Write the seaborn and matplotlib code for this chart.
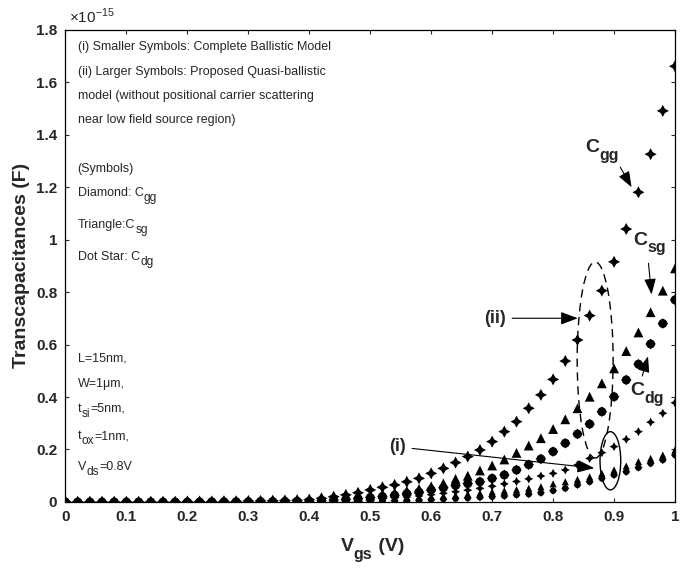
import seaborn as sns
import matplotlib.pyplot as plt
import numpy as np
import pandas as pd
from matplotlib.patches import Ellipse

sns.set_theme(style="ticks")
plt.rcParams['font.family'] = ['Liberation Sans', 'DejaVu Sans']
plt.rcParams['mathtext.fontset'] = 'custom'
plt.rcParams['mathtext.rm'] = 'Liberation Sans'

# gate voltage, 0 to 1 V in 0.02 steps
vgs = [round(0.02 * i, 2) for i in range(51)]

# larger symbols: quasi-ballistic model (x1e-15 F)
cgg_q = [0.001, 0.001, 0.001, 0.001, 0.001, 0.001, 0.001, 0.001, 0.001, 0.001,
         0.002, 0.002, 0.002, 0.003, 0.003, 0.004, 0.004, 0.005, 0.006, 0.007,
         0.009, 0.014, 0.020, 0.027, 0.035, 0.046, 0.056, 0.065, 0.077, 0.090,
         0.109, 0.128, 0.150, 0.173, 0.198, 0.230, 0.268, 0.306, 0.357, 0.408,
         0.467, 0.537, 0.617, 0.710, 0.805, 0.915, 1.040, 1.180, 1.325, 1.490,
         1.660]
csg_q = [0.000, 0.000, 0.000, 0.000, 0.000, 0.000, 0.000, 0.000, 0.000, 0.000,
         0.001, 0.001, 0.001, 0.001, 0.002, 0.002, 0.002, 0.003, 0.003, 0.004,
         0.005, 0.008, 0.011, 0.015, 0.019, 0.024, 0.030, 0.036, 0.043, 0.050,
         0.060, 0.071, 0.088, 0.100, 0.120, 0.139, 0.162, 0.187, 0.215, 0.243,
         0.278, 0.315, 0.357, 0.401, 0.452, 0.509, 0.575, 0.646, 0.723, 0.805,
         0.890]
cdg_q = [0.000, 0.000, 0.000, 0.000, 0.000, 0.000, 0.000, 0.000, 0.000, 0.000,
         0.000, 0.000, 0.001, 0.001, 0.001, 0.001, 0.002, 0.002, 0.002, 0.003,
         0.003, 0.005, 0.007, 0.010, 0.013, 0.017, 0.021, 0.026, 0.032, 0.038,
         0.046, 0.054, 0.063, 0.070, 0.077, 0.090, 0.103, 0.122, 0.142, 0.164,
         0.192, 0.224, 0.259, 0.297, 0.344, 0.401, 0.465, 0.525, 0.602, 0.680,
         0.770]

# smaller symbols: complete ballistic model (x1e-15 F)
cgg_b = [0.000, 0.000, 0.000, 0.000, 0.000, 0.000, 0.000, 0.000, 0.000, 0.000,
         0.001, 0.001, 0.001, 0.001, 0.001, 0.001, 0.002, 0.002, 0.002, 0.002,
         0.003, 0.004, 0.005, 0.006, 0.008, 0.010, 0.013, 0.016, 0.019, 0.023,
         0.028, 0.033, 0.039, 0.045, 0.052, 0.060, 0.069, 0.078, 0.088, 0.099,
         0.109, 0.122, 0.141, 0.166, 0.188, 0.211, 0.239, 0.268, 0.304, 0.338,
         0.378]
csg_b = [0.000, 0.000, 0.000, 0.000, 0.000, 0.000, 0.000, 0.000, 0.000, 0.000,
         0.000, 0.000, 0.000, 0.001, 0.001, 0.001, 0.001, 0.001, 0.001, 0.001,
         0.002, 0.002, 0.003, 0.004, 0.005, 0.007, 0.009, 0.011, 0.013, 0.016,
         0.019, 0.022, 0.026, 0.030, 0.034, 0.039, 0.043, 0.047, 0.052, 0.058,
         0.069, 0.077, 0.086, 0.096, 0.109, 0.122, 0.137, 0.154, 0.166, 0.179,
         0.198]
cdg_b = [0.000, 0.000, 0.000, 0.000, 0.000, 0.000, 0.000, 0.000, 0.000, 0.000,
         0.000, 0.000, 0.000, 0.000, 0.000, 0.000, 0.001, 0.001, 0.001, 0.001,
         0.001, 0.002, 0.002, 0.002, 0.002, 0.003, 0.004, 0.005, 0.006, 0.007,
         0.009, 0.011, 0.013, 0.015, 0.018, 0.020, 0.023, 0.027, 0.030, 0.035,
         0.043, 0.052, 0.065, 0.077, 0.090, 0.103, 0.115, 0.131, 0.147, 0.160,
         0.179]

df = pd.DataFrame({"vgs": vgs, "cgg_q": cgg_q, "csg_q": csg_q, "cdg_q": cdg_q,
                   "cgg_b": cgg_b, "csg_b": csg_b, "cdg_b": cdg_b})

fig = plt.figure(figsize=(6.85, 5.79), dpi=100)
ax = fig.add_axes([0.0956, 0.133, 0.8898, 0.816])

star4 = (4, 1, 0)
kw = dict(data=df, x="vgs", color="black", edgecolor="none", ax=ax, legend=False, zorder=3)

# ballistic (small)
sns.scatterplot(y="cgg_b", marker=star4, s=42, **kw)
sns.scatterplot(y="csg_b", marker="^", s=26, **kw)
sns.scatterplot(y="cdg_b", marker="o", s=22, **kw)
sns.scatterplot(y="cdg_b", marker=star4, s=36, **kw)
# quasi-ballistic (large)
sns.scatterplot(y="cgg_q", marker=star4, s=75, **kw)
sns.scatterplot(y="csg_q", marker="^", s=50, **kw)
sns.scatterplot(y="cdg_q", marker="o", s=42, **kw)
sns.scatterplot(y="cdg_q", marker=star4, s=62, **kw)

ax.set_xlim(0, 1)
ax.set_ylim(0, 1.8)
ax.set_xticks(np.arange(0, 1.01, 0.1))
ax.set_yticks(np.arange(0, 1.81, 0.2))
ax.set_xticklabels(["0", "0.1", "0.2", "0.3", "0.4", "0.5", "0.6", "0.7", "0.8", "0.9", "1"])
ax.set_yticklabels(["0", "0.2", "0.4", "0.6", "0.8", "1", "1.2", "1.4", "1.6", "1.8"])
ax.tick_params(direction="in", length=3, width=0.8, top=True, right=True,
               labelsize=11, pad=6)
for lab in ax.get_xticklabels() + ax.get_yticklabels():
    lab.set_fontweight("bold")
for sp in ax.spines.values():
    sp.set_linewidth(0.9)
    sp.set_color("black")

ax.set_xlabel("")
ax.set_ylabel("Transcapacitances (F)", fontsize=14, fontweight="bold", labelpad=4)
ax.text(0.005, 1.815, r"$\times$10$^{-15}$", fontsize=11, ha="left", va="bottom")


def sub_text(x, y, main, sub, tail="", size=9.0, subsize=None, weight="normal",
             drop=None, transform=None):
    # main text, then a lowered subscript, then the rest on the main baseline
    subsize = subsize or size * 0.95
    drop = size * 0.4 if drop is None else drop
    t = ax.text(x, y, main, fontsize=size, fontweight=weight, va="center",
                transform=transform or ax.transData)
    s = ax.annotate(sub, xy=(1, 0), xycoords=t, xytext=(0.3, -drop),
                    textcoords="offset points", fontsize=subsize, fontweight=weight,
                    va="bottom", ha="left")
    if tail:
        ax.annotate(tail, xy=(1, 0), xycoords=(s, t), xytext=(0.3, 0),
                    textcoords="offset points", fontsize=size, fontweight=weight,
                    va="bottom", ha="left")


fs = 9
ax.text(0.02, 1.733, "(i) Smaller Symbols: Complete Ballistic Model", fontsize=fs, va="center")
ax.text(0.02, 1.640, "(ii) Larger Symbols: Proposed Quasi-ballistic", fontsize=fs, va="center")
ax.text(0.02, 1.547, "model (without positional carrier scattering", fontsize=fs, va="center")
ax.text(0.02, 1.454, "near low field source region)", fontsize=fs, va="center")
ax.text(0.02, 1.269, "(Symbols)", fontsize=fs, va="center")
sub_text(0.02, 1.177, "Diamond: C", "gg")
sub_text(0.02, 1.055, "Triangle:C", "sg")
sub_text(0.02, 0.933, "Dot Star: C", "dg")
ax.text(0.02, 0.548, "L=15nm,", fontsize=fs, va="center")
ax.text(0.02, 0.450, "W=1\u03bcm,", fontsize=fs, va="center")
sub_text(0.02, 0.355, "t", "si", "=5nm,")
sub_text(0.02, 0.250, "t", "ox", "=1nm,")
sub_text(0.02, 0.135, "V", "ds", "=0.8V")

# x axis label
sub_text(0.497, 0.056, "V", "gs", " (V)", size=14, subsize=11.5, weight="bold",
         drop=5, transform=fig.transFigure)

# curve labels and arrows
sub_text(0.852, 1.349, "C", "gg", size=14, subsize=11.5, weight="bold", drop=5)
sub_text(0.931, 0.998, "C", "sg", size=14, subsize=11.5, weight="bold", drop=5)
sub_text(0.926, 0.423, "C", "dg", size=14, subsize=11.5, weight="bold", drop=5)

arrow = dict(arrowstyle="-|>,head_length=0.8,head_width=0.3", color="black", lw=0.8)
ax.annotate("", xy=(0.931, 1.19), xytext=(0.908, 1.285), arrowprops=arrow)
ax.annotate("", xy=(0.962, 0.78), xytext=(0.956, 0.92), arrowprops=arrow)
ax.annotate("", xy=(0.957, 0.565), xytext=(0.945, 0.47), arrowprops=arrow)
ax.annotate("(ii)", xy=(0.845, 0.70), xytext=(0.705, 0.70),
            fontsize=13, fontweight="bold", ha="center", va="center", arrowprops=arrow)
ax.annotate("(i)", xy=(0.872, 0.128), xytext=(0.545, 0.21),
            fontsize=13, fontweight="bold", ha="center", va="center", arrowprops=arrow)

ax.add_patch(Ellipse((0.869, 0.541), 0.059, 0.747, fill=False, ls=(0, (6, 4)), lw=1.0,
                     color="black", zorder=4))
ax.add_patch(Ellipse((0.894, 0.157), 0.034, 0.222, fill=False, lw=1.0,
                     color="black", zorder=4))

fig.savefig("out.png", dpi=100)
